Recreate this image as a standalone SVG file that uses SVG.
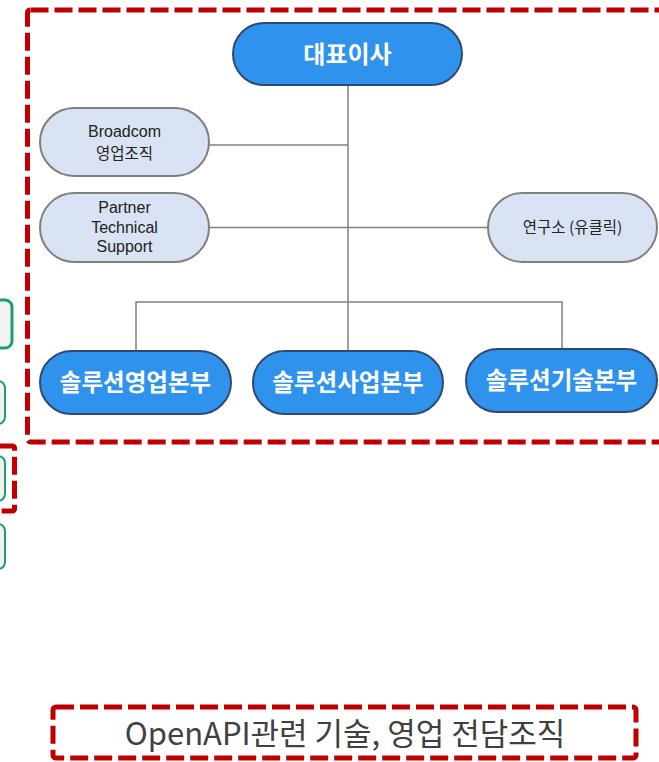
<svg xmlns="http://www.w3.org/2000/svg" width="659" height="762" viewBox="0 0 659 762">
<style>
.red{fill:none;stroke:#C00000;stroke-width:5;stroke-dasharray:18 6}
.green{fill:#F2F2F2;stroke:#1E9E6E;stroke-width:2}
.blue{fill:#2F93EE;stroke:#2F4A6D;stroke-width:2}
.light{fill:#DAE3F3;stroke:#7F7F7F;stroke-width:2}
.conn{fill:none;stroke:#808080;stroke-width:1.5}
.bt{font-family:"Noto Sans CJK KR","Noto Sans",sans-serif;font-weight:bold;font-size:23.5px;fill:#FFFFFF;text-anchor:middle}
.lt{font-family:"Noto Sans CJK KR","Noto Sans",sans-serif;font-size:15.5px;fill:#222222;text-anchor:middle}
.en{font-family:"Liberation Sans","Noto Sans",sans-serif;font-size:16px;fill:#222222;text-anchor:middle}
.cap{font-family:"Noto Sans CJK KR","Noto Sans",sans-serif;font-size:31px;fill:#404040;text-anchor:middle}
</style>
<rect width="659" height="762" fill="#FFFFFF"/>
<g id="side-boxes">
<rect class="green" x="-40" y="300" width="52" height="48" rx="7" style="stroke-width:3"/>
<rect class="green" x="-40" y="381" width="45" height="43" rx="7"/>
<rect class="green" x="-40" y="456" width="45" height="45" rx="7"/>
<rect class="green" x="-40" y="524" width="45" height="45" rx="7"/>
</g>
<rect class="red" x="-50" y="446" width="64.5" height="65" rx="2"/>
<rect class="red" x="27.5" y="10" width="660" height="432" rx="3"/>
<g id="connectors">
<path class="conn" d="M348 85V351"/>
<path class="conn" d="M136 351V302H562V350"/>
<path class="conn" d="M209 145H348"/>
<path class="conn" d="M209 227.5H488"/>
</g>
<g id="ceo">
<rect class="blue" x="233" y="23" width="229" height="62" rx="31"/>
<text class="bt" x="347.5" y="62.5" style="font-size:24px">대표이사</text>
</g>
<g id="broadcom">
<rect class="light" x="40" y="108" width="169" height="68" rx="34"/>
<text class="en" x="124.5" y="137">Broadcom</text>
<text class="lt" x="124.5" y="159">영업조직</text>
</g>
<g id="partner">
<rect class="light" x="40" y="193" width="169" height="69" rx="34.5"/>
<text class="en" x="124.5" y="213">Partner</text>
<text class="en" x="124.5" y="232.5">Technical</text>
<text class="en" x="124.5" y="252">Support</text>
</g>
<g id="lab">
<rect class="light" x="488" y="193" width="169" height="69" rx="34.5"/>
<text class="lt" x="572.5" y="233">연구소 (유클릭)</text>
</g>
<g id="sales">
<rect class="blue" x="40" y="351" width="191" height="63" rx="31.5"/>
<text class="bt" x="135.5" y="390.5">솔루션영업본부</text>
</g>
<g id="business">
<rect class="blue" x="253" y="351" width="190" height="63" rx="31.5"/>
<text class="bt" x="348" y="390.5">솔루션사업본부</text>
</g>
<g id="tech">
<rect class="blue" x="466" y="349" width="191" height="63" rx="31.5"/>
<text class="bt" x="561.5" y="388.5">솔루션기술본부</text>
</g>
<g id="caption">
<rect class="red" x="53" y="707" width="583" height="51" rx="3"/>
<text class="cap" x="345" y="744.5">OpenAPI관련 기술, 영업 전담조직</text>
</g>
</svg>
